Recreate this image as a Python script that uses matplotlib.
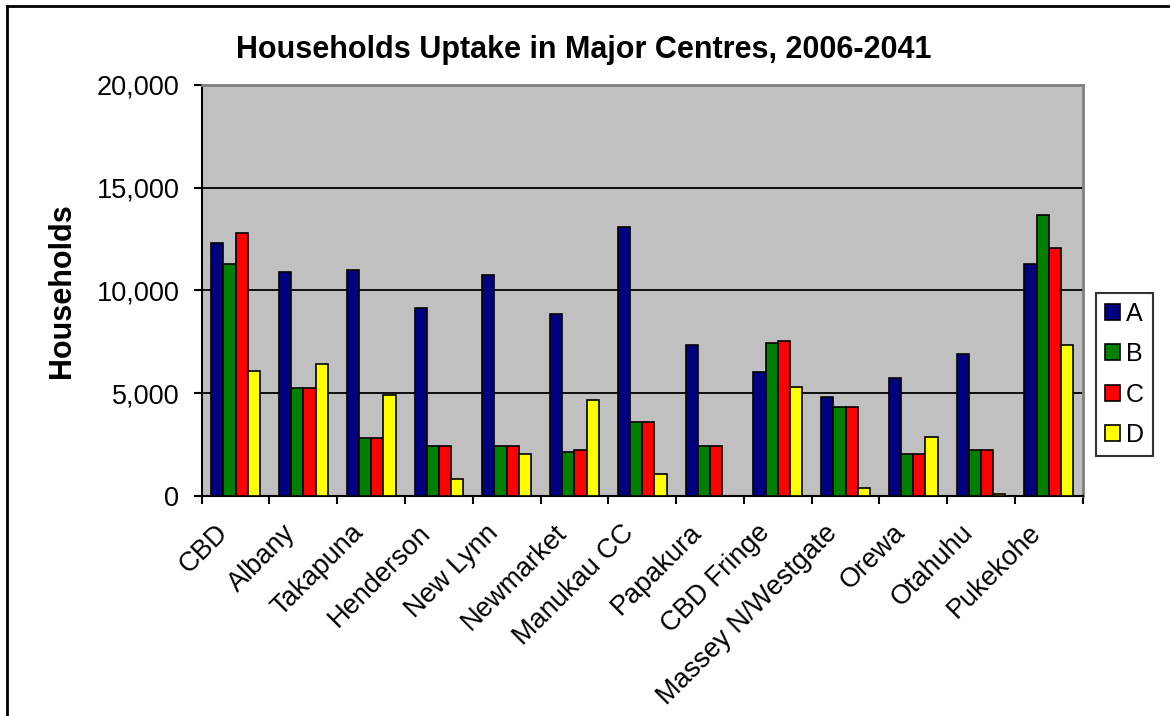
import numpy as np
import matplotlib
matplotlib.use("Agg")
import matplotlib.pyplot as plt
from matplotlib.lines import Line2D
from matplotlib.ticker import FuncFormatter, MultipleLocator, FixedLocator
import matplotlib.transforms as mtransforms

plt.rcParams['font.family'] = ['Liberation Sans', 'DejaVu Sans']

# data
centres = ["CBD", "Albany", "Takapuna", "Henderson", "New Lynn", "Newmarket",
           "Manukau CC", "Papakura", "CBD Fringe", "Massey N/Westgate",
           "Orewa", "Otahuhu", "Pukekohe"]
series_a = [12300, 10900, 11000, 9150, 10750, 8850, 13100, 7350, 6050, 4800, 5750, 6900, 11300]
series_b = [11300, 5250, 2800, 2450, 2450, 2150, 3600, 2450, 7450, 4350, 2050, 2250, 13650]
series_c = [12800, 5250, 2800, 2450, 2450, 2250, 3600, 2450, 7550, 4350, 2050, 2250, 12050]
series_d = [6100, 6400, 4900, 850, 2050, 4650, 1050, 0, 5300, 380, 2850, 80, 7350]
series_names = ["A", "B", "C", "D"]
series_colors = ["#000080", "#008000", "#FF0000", "#FFFF00"]

fig = plt.figure(figsize=(11.7, 7.16), dpi=100)
ax = fig.add_axes([0.1724, 0.3073, 0.7530, 0.5740])
ax.set_facecolor("#C0C0C0")

x = np.arange(len(centres))
w = 0.18
for k, vals in enumerate([series_a, series_b, series_c, series_d]):
    ax.bar(x + (k - 1.5) * w, vals, width=w, color=series_colors[k],
           edgecolor="black", linewidth=1.2, label=series_names[k], zorder=3)

ax.set_xlim(-0.5, len(centres) - 0.5)
ax.set_ylim(0, 20000)
ax.yaxis.set_major_locator(MultipleLocator(5000))
ax.yaxis.set_major_formatter(FuncFormatter(lambda v, p: f"{int(v):,}"))
ax.grid(axis="y", color="black", linewidth=1.3, zorder=1)
ax.set_axisbelow(True)

for side in ["top", "right"]:
    ax.spines[side].set_color("#808080")
    ax.spines[side].set_linewidth(2)
for side in ["left", "bottom"]:
    ax.spines[side].set_color("black")
    ax.spines[side].set_linewidth(1.5)

ax.tick_params(axis="y", direction="out", length=6, width=1.5, labelsize=19.5, pad=10)
ax.set_xticks(x)
ax.set_xticklabels(centres, rotation=45, ha="right", rotation_mode="anchor")
ax.tick_params(axis="x", which="major", length=0, labelsize=19.5, pad=17)
ax.xaxis.set_minor_locator(FixedLocator(np.arange(len(centres) + 1) - 0.5))
ax.tick_params(axis="x", which="minor", direction="out", length=6, width=1.5)
offset = mtransforms.ScaledTranslation(-21 / 100, 0, fig.dpi_scale_trans)
for lab in ax.get_xticklabels():
    lab.set_transform(lab.get_transform() + offset)

fig.text(0.4987, 0.930, "Households Uptake in Major Centres, 2006-2041",
         ha="center", va="center", fontsize=22, fontweight="bold")
fig.text(0.0527, 0.594, "Households", rotation=90, ha="center", va="center",
         fontsize=22, fontweight="bold")

leg = fig.legend(loc="upper left", bbox_to_anchor=(0.9368, 0.5908),
                 fontsize=18, frameon=True, fancybox=False, borderaxespad=0,
                 handlelength=0.6, handleheight=0.6, handletextpad=0.25,
                 labelspacing=0.66, borderpad=0.35)
leg.get_frame().set_edgecolor("black")
leg.get_frame().set_linewidth(1.5)

# outer chart frame (only top and left edges are inside the picture)
fig.add_artist(Line2D([7 / 1170, 7 / 1170], [0, 1 - 6 / 716], transform=fig.transFigure,
                      color="black", linewidth=2))
fig.add_artist(Line2D([7 / 1170, 1], [1 - 6 / 716, 1 - 6 / 716], transform=fig.transFigure,
                      color="black", linewidth=2))

fig.savefig("out.png", dpi=100)
